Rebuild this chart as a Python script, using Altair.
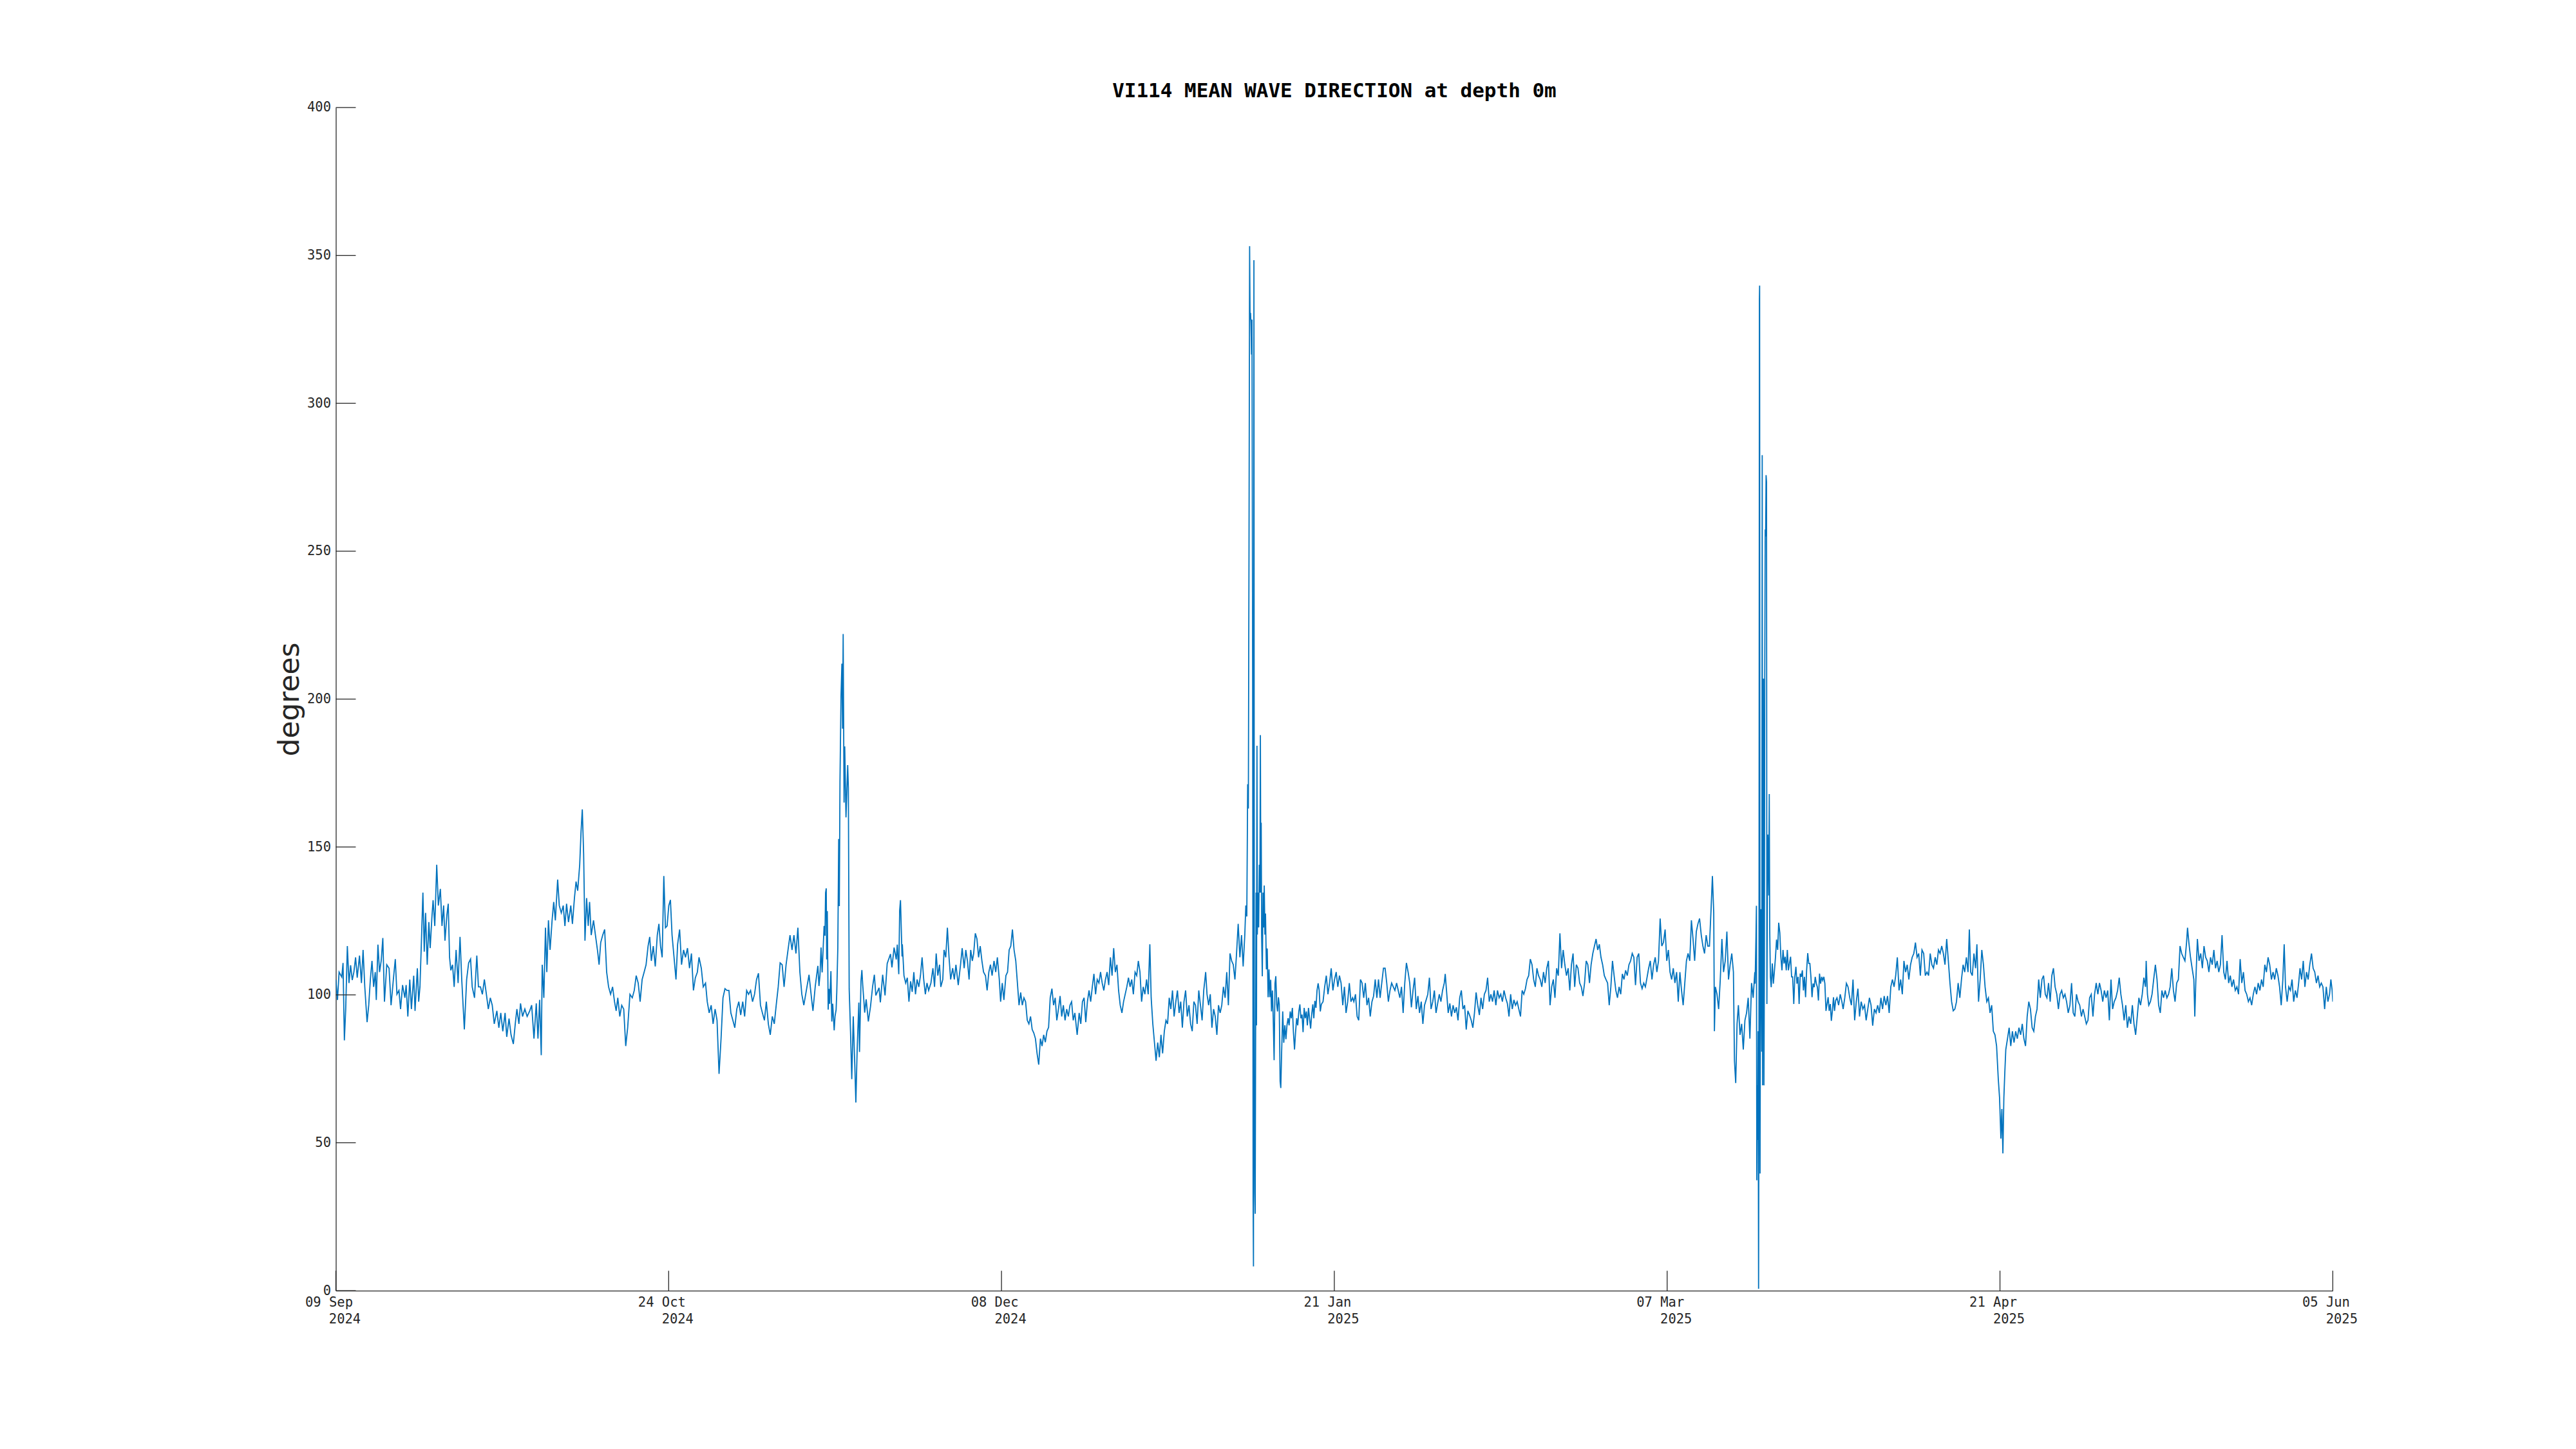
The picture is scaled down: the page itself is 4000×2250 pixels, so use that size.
import altair as alt
import pandas as pd

# ---------------- data ----------------
START = "2024-09-09"
END_DAY = 269

DAYS = [
0.00,0.22,0.44,0.80,0.97,1.15,1.33,1.55,1.77,1.99,2.21,2.43,2.66,2.88,3.19,3.45,3.67,3.90,4.21,4.43,
4.65,4.87,5.09,5.31,5.45,5.67,5.89,6.11,6.33,6.55,6.86,7.17,7.44,7.75,8.01,8.23,8.50,8.72,8.99,9.30,
9.47,9.70,9.96,10.18,10.49,10.67,10.98,11.16,11.33,11.51,11.73,11.91,12.09,12.31,12.53,12.71,12.93,13.10,13.33,13.59,
13.81,14.08,14.30,14.52,14.70,14.96,15.14,15.32,15.49,15.72,15.94,16.20,16.47,16.73,16.96,17.31,17.62,17.89,18.15,18.37,
18.68,18.99,19.21,19.48,19.74,20.01,20.28,20.54,20.81,21.07,21.34,21.69,21.96,22.22,22.49,22.80,23.02,23.33,23.60,23.91,
24.17,24.39,24.66,24.88,25.15,25.46,25.77,26.12,26.38,26.69,27.00,27.23,27.45,27.67,27.80,28.02,28.24,28.42,28.64,28.86,
29.13,29.35,29.57,29.88,30.10,30.37,30.63,30.86,31.08,31.34,31.65,31.87,32.14,32.36,32.58,32.85,33.03,33.20,33.38,33.56,
33.78,34.00,34.18,34.40,34.71,34.97,35.24,35.46,35.68,35.95,36.21,36.48,36.74,37.01,37.28,37.54,37.76,37.98,38.25,38.51,
38.78,39.05,39.31,39.62,39.93,40.20,40.46,40.73,40.99,41.26,41.53,41.79,42.06,42.28,42.50,42.76,43.03,43.30,43.52,43.74,
43.96,44.18,44.40,44.62,44.85,45.07,45.29,45.60,45.82,46.04,46.31,46.57,46.84,47.10,47.37,47.64,47.90,48.17,48.43,48.70,
48.92,49.23,49.49,49.80,50.03,50.29,50.56,50.82,51.09,51.35,51.62,51.89,52.15,52.42,52.68,52.95,53.21,53.48,53.74,54.01,
54.28,54.54,54.81,55.07,55.34,55.60,55.87,56.13,56.40,56.67,56.93,57.20,57.46,57.73,57.99,58.26,58.52,58.79,59.06,59.32,
59.59,59.85,60.12,60.38,60.65,60.91,61.18,61.45,61.71,61.98,62.24,62.51,62.77,63.04,
63.74,64.12,64.27,64.58,64.93,65.08,65.22,65.36,65.51,65.77,65.89,65.97,66.06,66.12,66.20,66.32,66.43,66.52,66.69,66.81,
66.93,67.13,67.24,67.39,67.48,67.62,67.74,67.82,67.91,68.05,68.17,68.26,68.34,68.46,68.55,68.72,68.95,69.04,69.15,69.33,
69.50,69.70,69.90,70.05,70.22,70.45,70.54,70.74,70.86,70.97,71.24,71.44,71.73,72.02,72.31,72.54,72.74,73.17,73.35,73.66,
73.98,74.27,74.71,74.91,75.20,75.49,75.63,75.83,75.95,76.06,76.27,
76.31,76.53,76.76,76.98,77.20,77.42,77.64,77.86,78.08,78.30,78.53,78.75,78.97,79.19,79.41,79.63,79.85,80.16,80.43,80.65,
80.87,81.09,81.32,81.49,81.76,81.93,82.16,82.38,82.60,82.82,83.09,83.31,83.53,83.84,84.15,84.37,84.64,84.86,85.08,85.30,
85.52,85.74,85.92,86.14,86.36,86.58,86.80,87.03,87.25,87.51,87.73,87.96,88.18,88.40,88.66,88.89,89.11,89.37,89.55,89.77,
89.99,90.26,90.48,90.70,90.92,91.14,91.36,91.59,91.81,92.03,92.25,92.47,92.69,92.91,93.14,93.36,93.58,93.80,94.02,94.24,
94.46,94.68,94.91,95.13,95.35,95.57,95.79,96.01,96.23,96.46,96.68,96.90,97.12,97.34,97.56,97.78,98.00,98.23,98.45,98.67,
98.89,99.11,99.33,99.55,99.86,100.13,100.35,100.57,100.79,101.02,101.24,101.46,101.68,101.90,102.12,102.34,102.56,102.79,103.01,103.23,
103.45,103.67,103.89,104.11,104.34,104.56,104.78,105.00,105.22,105.44,105.66,105.89,106.11,106.33,106.55,106.77,106.99,107.21,107.43,107.66,
107.88,108.10,108.32,108.54,108.76,108.98,109.21,109.43,109.65,109.83,110.05,110.27,110.49,110.71,110.93,111.15,111.37,111.60,111.82,112.04,
112.26,112.48,112.70,112.92,113.15,113.37,113.59,113.81,114.03,114.25,114.47,114.69,114.92,115.14,115.36,115.58,115.80,116.02,116.24,116.47,
116.69,116.91,117.17,117.35,117.57,117.79,118.01,118.24,118.46,118.68,118.90,119.12,119.34,119.56,119.79,120.01,120.23,120.45,120.67,120.89,
121.11,121.33,121.55,121.78,122.00,122.22,122.44,122.58,122.71,
122.83,122.92,123.01,123.09,123.15,123.21,123.27,123.35,123.41,123.50,123.56,123.61,123.67,123.73,123.79,123.84,123.90,123.96,124.02,124.08,
124.13,124.22,124.31,124.39,124.48,124.54,124.60,124.65,124.71,124.80,124.89,124.97,125.06,125.15,125.23,125.35,125.46,125.58,125.70,125.81,
125.93,126.04,126.16,126.27,126.39,126.51,126.62,126.74,126.85,126.97,127.08,127.20,127.29,127.40,127.55,127.69,127.84,127.98,128.12,128.27,
128.41,128.56,128.70,128.85,128.99,129.14,129.28,129.43,129.57,129.72,129.86,130.00,130.15,130.29,130.44,130.58,130.73,130.87,131.02,131.16,
131.31,131.45,131.60,131.74,131.88,132.03,132.17,132.32,132.46,132.61,132.75,
132.98,133.20,133.42,133.64,133.86,134.08,134.31,134.53,134.75,134.97,135.19,135.41,135.64,135.86,136.08,136.30,136.52,136.74,136.96,
137.13,137.35,137.57,137.79,138.02,138.24,138.46,138.68,138.90,139.12,139.34,139.57,139.79,140.01,140.23,140.45,140.67,140.89,141.12,141.34,
141.56,141.78,142.00,142.22,142.44,142.66,142.89,143.11,143.33,143.55,143.77,143.99,144.21,144.44,144.66,144.88,145.10,145.32,145.54,145.76,
145.98,146.21,146.43,146.65,146.87,147.09,147.31,147.53,147.76,147.98,148.20,148.42,148.64,148.86,149.08,149.31,149.44,149.61,149.84,150.06,
150.28,150.50,150.72,150.94,151.16,151.39,151.61,151.83,152.05,152.27,152.49,152.71,152.94,153.16,153.38,153.60,153.82,154.04,154.26,154.48,
154.71,154.93,155.15,155.37,155.59,155.81,156.03,156.26,156.48,156.70,156.92,157.14,157.36,157.58,157.81,158.03,158.25,158.47,158.69,158.91,
159.13,159.35,159.58,159.80,160.02,160.24,160.46,160.68,160.90,161.13,161.35,161.57,161.79,162.01,162.23,162.45,162.68,162.90,163.12,163.34,
163.56,163.78,164.00,164.22,164.45,164.67,164.89,165.11,165.33,165.55,165.77,166.00,166.22,166.44,166.66,166.88,167.10,167.32,167.55,167.77,
167.99,168.21,168.43,168.65,168.87,169.09,169.32,169.54,169.76,169.98,170.20,170.42,170.64,170.87,171.09,171.31,171.53,171.75,171.97,172.19,
172.42,172.64,172.86,173.08,173.30,173.52,173.74,173.96,174.19,174.41,174.63,174.85,175.07,175.29,175.51,175.74,175.96,176.18,176.40,176.62,
176.84,177.06,177.29,177.51,177.73,177.95,178.17,178.39,178.61,178.83,179.06,179.28,179.50,179.72,179.94,180.16,180.38,180.61,180.83,181.05,
181.27,181.49,181.71,181.93,182.15,182.38,182.60,182.82,183.04,183.26,183.48,183.70,183.93,184.15,184.37,184.59,184.81,185.03,185.25,185.43,
185.61,185.70,185.83,186.05,186.27,186.49,186.71,186.93,187.16,187.38,187.60,187.82,188.04,188.26,188.40,188.57,188.75,188.93,189.15,189.37,
189.59,189.81,190.03,190.25,190.48,190.70,190.92,191.14,
191.18,191.30,191.36,191.41,191.47,191.53,191.59,191.65,191.70,191.76,191.79,191.85,191.91,191.96,192.02,192.08,192.14,192.19,192.25,192.31,
192.37,192.43,192.48,192.54,192.60,192.66,192.72,192.77,192.83,192.89,192.95,193.03,193.09,193.15,193.24,193.35,193.50,193.64,193.79,193.93,
194.07,194.22,194.36,194.51,194.65,194.80,194.94,195.09,195.23,195.38,195.52,195.67,195.81,195.96,196.10,196.24,196.39,196.53,196.68,196.82,
196.97,197.11,197.26,197.40,197.55,197.69,197.83,197.98,198.12,198.27,198.41,198.56,198.70,198.85,198.99,199.14,199.28,199.43,199.57,199.71,
199.86,200.00,200.15,200.29,200.44,200.58,200.73,200.87,201.02,201.16,201.31,201.45,201.59,201.74,201.88,202.03,
202.21,202.43,202.65,202.87,
203.04,203.26,203.48,203.70,203.93,204.15,204.37,204.59,204.81,205.03,205.25,205.47,205.70,205.92,206.14,206.36,206.58,206.80,207.02,207.25,
207.47,207.69,207.91,208.13,208.35,208.57,208.80,209.02,209.24,209.46,209.68,209.90,210.12,210.34,210.57,210.79,211.01,211.23,211.45,211.67,
211.89,212.12,212.34,212.56,212.78,213.00,213.22,213.44,213.66,213.89,214.11,214.33,214.55,214.77,214.99,215.21,215.44,215.66,215.88,216.10,
216.32,216.54,216.76,216.99,217.21,217.43,217.65,217.87,218.09,218.31,218.53,218.76,218.98,219.20,219.42,219.64,219.86,220.04,220.22,220.44,
220.66,220.88,221.06,221.28,221.50,221.72,221.94,222.16,222.39,222.61,222.83,223.05,223.27,223.49,223.71,223.94,224.11,224.29,224.42,224.56,
224.69,224.82,224.95,225.18,225.40,225.62,225.84,226.06,226.28,226.50,226.72,226.95,227.17,227.39,227.61,227.83,228.05,228.27,228.50,228.72,
228.94,229.16,229.38,229.60,229.82,230.04,230.27,230.49,230.71,230.93,231.15,231.37,231.59,231.82,232.04,232.26,232.48,232.70,232.92,233.14,
233.36,233.59,233.81,234.03,234.25,234.47,234.69,234.91,235.14,235.36,235.58,235.80,236.02,236.24,236.46,236.69,236.91,237.13,237.35,237.57,
237.79,238.01,238.23,238.46,238.68,238.90,239.12,239.34,239.56,239.78,240.01,240.23,240.45,240.67,240.89,241.11,241.33,241.55,241.78,242.00,
242.22,242.44,242.66,242.88,243.10,243.33,243.55,243.77,243.86,244.03,244.21,244.43,244.65,244.87,245.10,245.32,245.54,245.76,245.98,246.20,
246.42,246.65,246.87,247.09,247.31,247.53,247.75,247.97,248.20,248.42,248.64,248.86,249.08,249.30,249.43,249.61,249.83,250.05,250.28,250.41,
250.54,250.76,250.98,251.21,251.43,251.65,251.87,252.09,252.31,252.53,252.76,252.98,253.20,253.42,253.64,253.86,254.08,254.31,254.53,254.75,
254.97,255.19,255.41,255.63,255.86,256.08,256.30,256.52,256.74,256.96,257.18,257.40,257.63,257.85,258.07,258.29,258.51,258.73,258.95,259.18,
259.40,259.62,259.84,260.06,260.28,260.50,260.73,260.95,261.17,261.39,261.61,261.83,262.05,262.27,262.45,262.63,262.85,263.07,263.29,263.51,
263.73,263.96,264.18,264.40,264.58,264.80,265.02,265.24,265.46,265.68,265.90,266.13,266.35,266.57,266.79,267.01,267.23,267.45,267.67,267.90,
268.12,268.34,268.56,268.74,268.91,269.00,
]

DEG = [
105.2,98.3,107.7,106.0,110.8,84.6,95.2,116.5,104.0,110.0,105.0,107.7,112.7,105.8,113.3,104.0,115.2,102.7,90.8,96.5,
105.2,111.5,102.7,107.7,98.3,117.0,107.7,111.5,119.2,97.7,110.2,109.0,96.5,105.2,112.1,100.2,101.5,95.2,103.3,99.0,
103.3,92.7,105.2,95.2,106.5,94.6,109.0,97.7,102.7,116.5,134.6,114.6,127.7,110.2,124.6,115.8,125.8,132.0,123.3,144.0,
130.2,135.8,123.3,130.2,118.3,127.0,130.8,112.7,108.3,110.2,102.7,115.2,104.0,119.6,105.2,88.3,105.2,110.8,112.1,102.7,
99.0,113.3,102.7,102.7,100.2,105.2,100.2,95.2,99.0,96.5,90.2,94.6,88.9,93.9,87.7,93.9,85.8,92.0,86.5,83.4,
90.2,95.2,90.2,97.1,92.7,95.2,92.7,94.6,96.5,85.2,97.1,85.2,98.3,79.6,110.2,99.0,122.7,107.7,125.2,115.2,
125.2,131.4,125.2,139.0,130.2,127.7,130.2,123.3,130.8,124.6,130.2,124.0,132.7,138.3,135.2,144.0,155.2,162.7,147.7,118.3,
132.7,123.3,131.4,120.2,125.2,120.2,115.2,110.2,117.7,120.2,122.1,107.7,102.7,100.2,102.7,97.7,94.6,99.0,92.7,96.5,
95.2,82.7,88.9,100.2,99.0,101.5,106.5,104.0,97.7,105.2,107.7,110.2,116.5,119.6,111.5,116.5,109.6,120.2,124.0,116.5,
112.7,140.2,122.7,123.3,130.2,132.1,120.2,111.5,105.2,117.1,122.1,110.2,115.2,112.7,115.8,109.0,114.0,101.5,105.8,107.7,
112.7,109.0,102.7,104.0,97.7,93.9,96.5,90.2,95.2,91.4,73.3,85.2,99.0,102.1,101.5,101.5,93.9,91.4,88.9,95.2,
97.7,93.2,97.7,92.7,101.5,100.2,101.5,97.7,100.2,105.2,107.3,96.5,93.9,91.4,97.7,90.2,86.5,92.7,90.2,96.5,
102.7,110.8,110.2,102.7,110.2,115.2,120.2,115.2,120.2,114.0,122.7,107.7,100.2,96.5,
106.8,97.8,94.6,102.9,109.8,103.0,106.8,116.0,107.6,123.3,120.0,134.5,136.0,112.0,128.3,95.0,102.0,97.0,108.0,91.0,
97.0,88.0,92.7,95.0,101.0,116.0,152.7,130.0,172.0,201.0,212.0,190.0,222.0,165.0,184.0,160.0,177.7,170.0,102.0,87.6,
71.5,92.7,76.6,63.6,81.0,97.4,80.7,104.7,108.4,103.5,94.0,98.5,91.0,96.0,102.9,106.8,99.8,102.4,97.5,106.8,
99.8,110.6,113.8,109.3,116.0,112.0,117.0,107.0,128.5,132.0,113.0,
117.1,106.5,104.0,105.8,97.7,104.6,101.0,107.7,100.2,105.2,102.7,106.5,112.7,105.2,100.2,104.0,101.5,104.0,109.0,102.7,
114.0,106.5,110.2,102.7,105.2,115.2,112.7,122.7,112.7,105.2,109.0,105.2,110.2,103.3,110.2,115.8,109.0,115.2,111.5,105.2,
115.2,111.5,114.0,120.8,118.9,112.7,116.5,111.5,107.7,106.5,101.5,107.7,110.2,106.5,111.5,107.7,112.7,105.2,97.7,104.0,
98.3,106.5,107.7,115.2,116.5,122.1,115.2,111.5,104.0,96.5,100.8,96.5,99.0,97.7,91.4,90.2,92.7,88.3,87.1,85.2,
80.2,76.4,85.2,82.7,86.5,84.0,87.7,89.0,99.0,102.1,96.5,99.0,91.4,95.2,99.6,92.7,96.5,91.4,95.2,92.7,
96.5,97.7,91.4,93.9,86.5,93.9,90.2,97.7,99.0,90.8,97.7,101.5,97.7,102.7,107.1,100.2,105.2,104.0,107.7,104.0,
101.5,105.2,107.7,103.3,112.7,106.5,115.8,107.7,110.2,101.5,96.5,93.9,97.7,100.2,102.7,105.8,102.7,105.2,100.2,107.7,
106.5,111.5,107.7,97.7,102.7,100.2,105.2,100.2,117.1,99.0,90.2,83.9,77.7,83.9,78.9,86.5,80.2,87.7,91.4,90.2,
99.0,95.2,101.5,92.7,97.7,101.5,93.9,97.7,88.9,97.7,101.5,92.7,96.5,90.2,87.7,97.7,96.5,90.2,101.5,96.5,
91.4,101.5,107.7,100.2,96.5,100.2,88.9,95.2,92.7,86.5,96.5,93.9,96.5,102.7,99.0,107.7,96.5,114.0,111.5,110.2,
105.2,114.0,124.0,112.7,120.2,109.6,120.2,130.2,126.5,
171.2,163.0,252.7,353.1,328.3,330.6,327.1,316.5,328.3,205.5,30.7,8.2,348.4,63.7,33.0,26.0,87.4,134.6,89.7,184.2,
120.4,134.6,122.8,144.0,134.6,187.8,134.6,158.2,120.4,106.3,134.6,122.8,137.0,120.4,127.5,108.6,115.7,99.2,108.6,99.2,
105.1,94.4,101.5,92.1,77.9,103.9,106.3,96.8,94.4,99.2,96.8,70.8,68.5,80.3,94.4,83.8,89.7,85.0,89.7,92.1,
89.7,94.4,92.1,95.6,87.4,81.5,87.4,92.1,89.7,94.4,96.8,92.1,93.3,87.4,95.6,92.1,94.4,89.7,95.6,92.1,
88.6,93.3,96.8,92.1,98.0,95.6,101.5,103.9,101.5,94.4,96.8,
97.7,102.7,106.5,100.2,104.0,109.0,101.5,105.2,107.7,102.7,106.5,104.0,96.5,102.7,93.9,97.7,104.0,97.7,99.0,
97.7,100.2,92.7,91.4,105.2,104.0,99.0,104.0,96.5,99.0,92.7,97.7,99.6,105.2,99.0,105.2,99.0,104.0,109.0,109.0,
104.0,97.7,101.5,104.0,102.7,101.5,104.0,101.5,99.0,102.7,93.9,104.0,110.8,107.7,104.0,95.8,101.5,105.8,95.2,99.6,
93.9,97.7,90.2,96.5,98.3,100.2,105.8,95.2,97.7,101.5,93.9,97.1,100.2,97.7,101.5,104.0,107.1,101.5,93.9,97.1,
92.7,96.5,93.9,95.8,91.4,99.0,101.5,95.2,96.5,88.3,94.6,93.2,91.4,88.9,93.9,100.8,96.5,93.2,99.0,95.2,
100.2,101.5,105.8,97.7,100.2,97.7,101.5,96.5,101.5,99.0,100.2,97.7,101.5,99.0,97.1,92.7,100.2,95.2,98.3,96.5,
97.7,95.2,92.7,101.5,100.2,102.1,105.2,106.5,112.1,110.2,105.2,102.7,109.0,106.5,105.2,102.7,107.7,104.0,109.0,111.5,
96.5,102.7,105.2,99.0,109.0,106.5,120.8,109.0,115.2,110.2,106.5,109.0,101.5,110.2,114.0,102.7,110.2,109.0,104.0,102.7,
99.6,104.0,111.5,110.2,104.0,110.2,114.0,116.5,118.9,115.2,117.1,112.7,110.2,106.5,105.2,104.0,96.5,102.7,111.5,106.5,
101.5,99.0,102.7,100.2,107.1,105.2,108.3,106.5,110.2,111.5,114.0,112.7,103.3,112.7,114.0,104.0,102.1,104.0,102.7,105.8,
109.0,111.5,105.2,110.2,112.7,107.7,111.5,125.8,116.5,117.7,122.1,111.5,115.2,107.7,105.2,109.0,104.0,107.7,97.7,107.7,
101.5,96.5,104.0,111.5,114.0,111.5,125.2,118.9,111.5,121.4,124.0,125.8,120.2,116.5,114.0,120.2,116.5,116.5,129.0,140.2,
127.7,87.7,102.7,100.2,95.2,105.2,118.9,107.7,111.5,121.4,105.2,110.2,114.0,107.7,77.7,70.2,90.2,96.5,86.5,90.2,
81.5,91.4,93.9,99.0,85.2,104.0,99.0,107.7,
103.8,119.8,130.1,37.3,69.4,51.0,87.7,0.6,74.0,335.2,339.8,39.6,119.8,129.0,101.5,80.8,282.5,69.4,165.6,206.9,
69.4,108.3,206.9,257.3,255.0,275.7,273.4,96.9,131.3,154.2,149.6,133.6,167.9,122.1,106.1,102.6,110.6,103.8,108.3,112.9,
118.7,115.2,124.4,121.0,112.9,108.3,115.2,110.6,112.9,108.3,115.2,108.3,110.6,112.9,106.1,106.1,96.9,106.1,109.5,103.8,
106.1,96.9,107.2,106.1,108.3,101.5,106.1,99.2,108.3,114.1,110.6,110.6,106.1,99.2,103.8,102.6,106.1,103.8,102.6,98.1,
107.2,103.8,106.1,104.9,106.1,103.8,94.6,96.9,99.2,94.6,96.9,91.2,94.6,99.2,94.6,98.1,
99.0,96.5,100.2,97.7,
95.2,99.0,103.9,102.7,99.0,96.5,105.2,91.4,97.7,102.1,92.7,97.7,95.2,96.5,91.4,95.2,99.0,96.5,89.6,95.2,
93.9,96.5,93.9,99.0,95.2,99.6,96.5,99.6,93.9,102.7,105.2,102.7,106.5,112.7,101.5,105.2,100.2,111.5,107.7,110.2,
105.2,110.2,112.7,114.0,117.7,112.7,114.0,106.5,115.2,114.0,106.5,107.7,106.5,114.0,110.2,109.0,112.7,110.2,115.2,114.0,
116.5,114.0,110.2,118.9,111.5,104.0,97.7,94.6,95.2,97.7,104.0,99.0,105.2,110.2,107.7,112.7,107.7,122.1,107.7,106.5,
114.0,109.0,117.1,97.7,105.2,115.2,110.2,102.7,97.7,99.0,93.9,96.5,87.7,86.5,82.7,71.5,65.2,51.4,61.4,46.4,
65.2,73.9,81.5,85.2,88.9,82.7,87.7,83.9,87.7,85.2,88.9,86.5,90.2,85.2,82.7,92.7,97.7,95.2,88.9,87.7,
92.7,95.2,105.2,99.0,105.2,106.5,100.2,99.0,104.0,97.7,106.5,109.0,102.7,100.2,95.2,100.2,101.5,99.0,100.2,97.7,
93.9,96.5,104.0,93.9,92.7,100.2,97.7,96.5,92.7,95.2,92.7,90.2,91.4,99.0,100.2,92.7,100.2,104.0,100.2,104.0,
101.5,97.7,101.5,99.0,101.5,91.4,105.2,95.2,97.7,99.0,101.5,105.8,100.2,96.5,91.4,96.5,88.9,92.7,90.2,96.5,
90.2,86.5,92.7,99.0,96.5,100.2,105.8,102.7,111.5,100.2,96.5,97.7,100.2,105.2,110.2,105.2,96.5,93.9,101.5,99.0,
101.5,99.0,100.2,102.7,109.0,101.5,97.7,104.0,105.2,116.5,114.0,112.7,111.5,117.7,122.7,117.7,112.7,109.0,105.2,92.7,
104.0,118.9,111.5,114.0,109.0,116.5,112.7,111.5,107.7,112.7,110.2,115.2,109.0,111.5,107.7,110.2,120.2,107.7,105.2,111.5,
104.0,106.5,102.7,105.2,101.5,102.7,100.2,112.1,104.0,107.7,101.5,100.2,97.7,99.0,96.5,100.2,102.7,100.2,104.0,101.5,
105.2,102.7,110.2,107.7,112.7,110.2,105.2,107.7,105.2,109.0,106.5,102.7,96.5,105.2,117.1,102.7,97.7,102.7,101.5,105.2,
97.7,101.5,99.0,104.0,109.0,105.2,111.5,102.7,107.7,105.2,110.2,114.0,109.0,107.7,104.0,106.5,102.7,104.0,102.7,95.2,
102.7,97.7,100.2,105.2,101.5,97.7,
]

TICK_DAYS = [0, 269 / 6, 2 * 269 / 6, 3 * 269 / 6, 4 * 269 / 6, 5 * 269 / 6, 269]
TICK_LINE1 = ["09 Sep", "24 Oct", "08 Dec", "21 Jan", "07 Mar", "21 Apr", "05 Jun"]
TICK_LINE2 = ["2024", "2024", "2024", "2025", "2025", "2025", "2025"]
Y_TICKS = [0, 50, 100, 150, 200, 250, 300, 350, 400]

TITLE = "VI114 MEAN WAVE DIRECTION at depth 0m"
Y_TITLE = "degrees"

# ---------------- build ----------------
assert len(DAYS) == len(DEG), (len(DAYS), len(DEG))

DAY_MS = 86400000
start_ms = int(pd.Timestamp(START, tz="UTC").value // 10**6)
end_ms = start_ms + END_DAY * DAY_MS

df = pd.DataFrame({"t": [start_ms + round(d * DAY_MS) for d in DAYS], "v": DEG})
tick_ms = [start_ms + round(d * DAY_MS) for d in TICK_DAYS]
xtick_df = pd.DataFrame({"t": tick_ms, "year": TICK_LINE2})
ytick_df = pd.DataFrame({"v": Y_TICKS})

expr = "''"
for ms, l1 in reversed(list(zip(tick_ms, TICK_LINE1))):
    expr = f"abs(datum.value - {ms}) < 60000 ? '{l1}' : ({expr})"

W, H = 3104, 1839
AX = "#262626"
MONO = "DejaVu Sans Mono"
FS = 20.5

xscale = alt.Scale(type="utc", domain=[start_ms, end_ms], nice=False)
yscale = alt.Scale(domain=[0, 400], nice=False, zero=False)

xaxis = alt.Axis(
    values=tick_ms, labelExpr=expr, title=None, grid=False, ticks=False,
    domainColor=AX, domainWidth=1.3, labelFont=MONO, labelFontSize=FS,
    labelColor=AX, labelPadding=8, labelOffset=-11,
    labelAngle=0, labelBaseline="top", labelAlign="center",
    labelOverlap=False, labelFlush=False)
yaxis = alt.Axis(
    values=Y_TICKS, title=Y_TITLE, grid=False, ticks=False,
    domainColor=AX, domainWidth=1.3, labelFont=MONO, labelFontSize=FS,
    labelColor=AX, labelPadding=8, labelOverlap=False, labelFlush=False,
    titleFont="DejaVu Sans", titleFontSize=44, titleFontWeight="normal",
    titleColor=AX, titleAngle=-90, titleX=-58, titleY=H / 2,
    titleAlign="center", titleBaseline="alphabetic")

line = alt.Chart(df).mark_line(color="#0072BD", strokeWidth=1.8, clip=True).encode(
    x=alt.X("t:T", scale=xscale, axis=xaxis),
    y=alt.Y("v:Q", scale=yscale, axis=yaxis),
)

yticks = alt.Chart(ytick_df).mark_rule(color=AX, strokeWidth=1.3).encode(
    y=alt.Y("v:Q", scale=yscale, axis=yaxis),
    x=alt.value(0), x2=alt.value(31),
)
xticks = alt.Chart(xtick_df).mark_rule(color=AX, strokeWidth=1.3).encode(
    x=alt.X("t:T", scale=xscale, axis=xaxis),
    y=alt.value(H), y2=alt.value(H - 31),
)
# second line of the date tick labels (the year), shifted right as in the original
years = alt.Chart(xtick_df).mark_text(
    font=MONO, fontSize=FS, color=AX, align="center", baseline="top", dx=14
).encode(
    x=alt.X("t:T", scale=xscale, axis=xaxis),
    y=alt.value(H + 35),
    text="year:N",
)

chart = alt.layer(line, yticks, xticks, years).properties(
    width=W, height=H,
    title=alt.Title(TITLE, font=MONO, fontSize=31, fontWeight="bold",
                    color="black", anchor="middle", offset=6, dy=31,
                    baseline="alphabetic"),
    autosize=alt.AutoSizeParams(type="none"),
    padding={"left": 514, "top": 158, "right": 370, "bottom": 240},
).configure(background="white").configure_view(stroke=None)

chart.save("out.html", embed_options={"renderer": "svg", "actions": False})
